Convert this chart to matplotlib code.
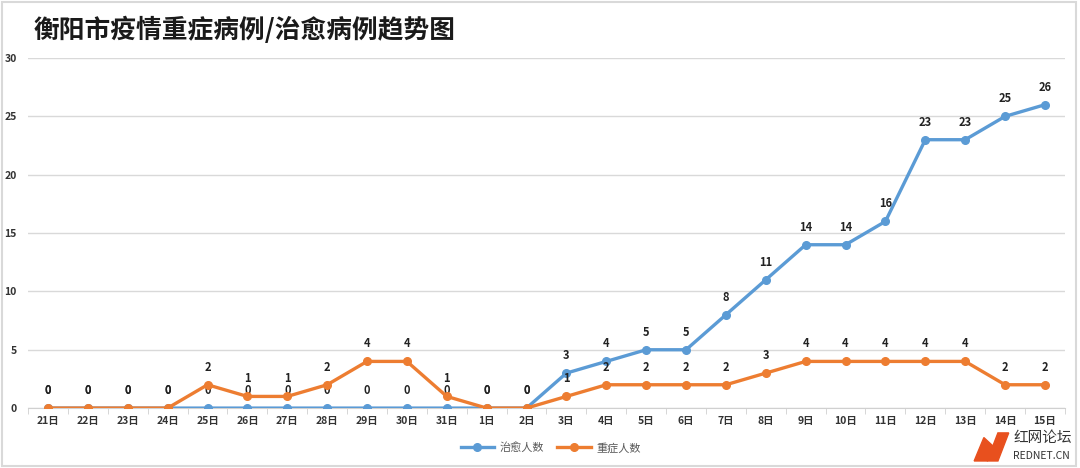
import numpy as np
import matplotlib.pyplot as plt
from matplotlib.patches import Rectangle, Polygon

plt.rcParams['font.family'] = ['Noto Sans CJK SC', 'DejaVu Sans']

days = ['21日', '22日', '23日', '24日', '25日', '26日', '27日', '28日', '29日', '30日',
        '31日', '1日', '2日', '3日', '4日', '5日', '6日', '7日', '8日', '9日',
        '10日', '11日', '12日', '13日', '14日', '15日']
cured = [0, 0, 0, 0, 0, 0, 0, 0, 0, 0, 0, 0, 0, 3, 4, 5, 5, 8, 11, 14, 14, 16, 23, 23, 25, 26]
severe = [0, 0, 0, 0, 2, 1, 1, 2, 4, 4, 1, 0, 0, 1, 2, 2, 2, 2, 3, 4, 4, 4, 4, 4, 2, 2]

blue = '#5B9BD5'
orange = '#ED7D31'

fig = plt.figure(figsize=(10.8, 4.68), dpi=100)
ax = fig.add_axes([0.026, 0.128, 0.96, 0.748])

x = np.arange(len(days))
ax.plot(x, cured, color=blue, lw=2.4, marker='o', ms=5.5, label='治愈人数', zorder=3)
ax.plot(x, severe, color=orange, lw=2.4, marker='o', ms=5.5, label='重症人数', zorder=4)

for xi, v in zip(x, cured):
    ax.annotate(str(v), (xi, v), xytext=(0, 8), textcoords='offset points',
                ha='center', va='bottom', fontsize=8, fontweight='bold', color='#222222')
for xi, v in zip(x, severe):
    ax.annotate(str(v), (xi, v), xytext=(0, 8), textcoords='offset points',
                ha='center', va='bottom', fontsize=8, fontweight='bold', color='#222222')

ax.set_xlim(-0.5, len(days) - 0.5)
ax.set_ylim(0, 30)
ax.set_yticks(range(0, 31, 5))
ax.set_xticks(x)
ax.set_xticklabels(days)
ax.set_xticks(np.arange(-0.5, len(days), 1), minor=True)
ax.tick_params(axis='x', which='major', length=0, pad=6)
ax.tick_params(axis='x', which='minor', length=4, color='#d0d0d0')
ax.tick_params(axis='y', length=0, pad=8)
for lab in ax.get_xticklabels() + ax.get_yticklabels():
    lab.set_fontsize(7.5)
    lab.set_fontweight('bold')
    lab.set_color('#333333')

ax.grid(axis='y', color='#d9d9d9', lw=1)
ax.set_axisbelow(True)
for s in ['top', 'right', 'left']:
    ax.spines[s].set_visible(False)
ax.spines['bottom'].set_color('#d0d0d0')

leg = fig.legend(loc='center', bbox_to_anchor=(0.51, 0.043), ncol=2, frameon=False,
                 fontsize=8, handlelength=3, columnspacing=1.2, handletextpad=0.5)
for t in leg.get_texts():
    t.set_color('#595959')

fig.text(0.031, 0.935, '衡阳市疫情重症病例/治愈病例趋势图', fontsize=18.5, fontweight='bold',
         color='#1a1a1a', va='center', ha='left')

# watermark
fig.text(0.938, 0.064, '红网论坛', fontsize=10.5, color='#333333', ha='left', va='center')
fig.text(0.938, 0.026, 'REDNET.CN', fontsize=7.5, color='#333333', ha='left', va='center')
fig.add_artist(Polygon([(0.914, 0.015), (0.924, 0.075), (0.934, 0.075), (0.924, 0.015)],
                       closed=True, transform=fig.transFigure, color='#E8501E'))
fig.add_artist(Polygon([(0.902, 0.015), (0.911, 0.065), (0.925, 0.035), (0.914, 0.015)],
                       closed=True, transform=fig.transFigure, color='#E8501E'))

fig.add_artist(Rectangle((0.002, 0.004), 0.994, 0.992, transform=fig.transFigure,
                         fill=False, edgecolor='#d9d9d9', lw=1.5))

fig.savefig('out.png', dpi=100)
